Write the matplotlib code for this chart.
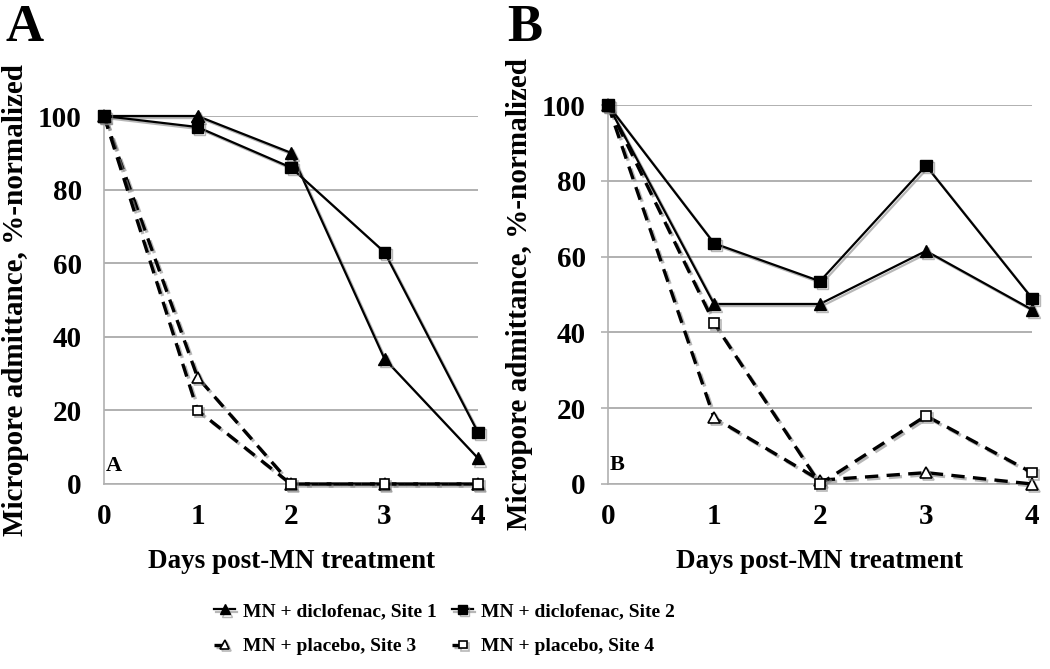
import matplotlib
matplotlib.use("Agg")
import matplotlib.pyplot as plt
import matplotlib.patheffects as pe

days = [0, 1, 2, 3, 4]

# Panel A
a_site1 = [100, 100, 90, 34, 7]
a_site2 = [100, 97, 86, 63, 14]
a_site3 = [100, 29, 0, 0, 0]
a_site4 = [100, 20, 0, 0, 0]

# Panel B
b_site1 = [100, 47.5, 47.5, 61.5, 46]
b_site2 = [100, 63.5, 53.5, 84, 49]
b_site3 = [100, 17.5, 1, 3, 0]
b_site4 = [100, 42.5, 0, 18, 3]

labels = ["MN + diclofenac, Site 1", "MN + diclofenac, Site 2",
          "MN + placebo, Site 3", "MN + placebo, Site 4"]
yticks = [0, 20, 40, 60, 80, 100]
xticks = [0, 1, 2, 3, 4]

plt.rcParams['font.family'] = ['Liberation Serif', 'DejaVu Serif']
plt.rcParams['font.weight'] = 'bold'

fig = plt.figure(figsize=(10.5, 6.69), dpi=100)
W, H = 1050, 669

def make_ax(l, r, t, b):
    return fig.add_axes([l / W, 1 - b / H, (r - l) / W, (b - t) / H])

axA = make_ax(104, 478, 116, 484)
axB = make_ax(608, 1032, 105, 484)

shadow = [pe.SimpleLineShadow(offset=(1.5, -1.5), shadow_color='#888888', alpha=0.6),
          pe.Normal()]

def draw(ax, s1, s2, s3, s4, letter, ytick_len):
    ax.set_xlim(0, 4)
    ax.set_ylim(0, 100)
    ax.set_yticks(yticks)
    ax.set_xticks(xticks)
    ax.grid(axis='y', color='#b0b0b0', linewidth=1.4)
    ax.set_axisbelow(True)
    for s in ['top', 'right']:
        ax.spines[s].set_visible(False)
    for s in ['left', 'bottom']:
        ax.spines[s].set_color('#b0b0b0')
        ax.spines[s].set_linewidth(1.2)
    ax.tick_params(axis='x', length=0, labelsize=21, pad=14)
    ax.tick_params(axis='y', length=ytick_len, width=1.2, color='#b0b0b0',
                   labelsize=21, pad=16 - ytick_len)
    for lab in ax.get_xticklabels() + ax.get_yticklabels():
        lab.set_fontweight('bold')
    h = []
    h += ax.plot(days, s1, color='black', lw=1.6, marker='^', ms=9, mfc='black',
                 mec='black', clip_on=False, path_effects=shadow, label=labels[0], zorder=5)
    h += ax.plot(days, s2, color='black', lw=1.6, marker='s', ms=8, mfc='black',
                 mec='black', clip_on=False, path_effects=shadow, label=labels[1], zorder=5)
    h += ax.plot(days, s3, color='black', lw=2.4, ls=(0, (4, 2.5)), marker='^', ms=8,
                 mfc='white', mec='black', mew=1.2, clip_on=False, path_effects=shadow,
                 label=labels[2], zorder=4)
    h += ax.plot(days, s4, color='black', lw=2.4, ls=(0, (4, 2.5)), marker='s', ms=7,
                 mfc='white', mec='black', mew=1.2, clip_on=False, path_effects=shadow,
                 label=labels[3], zorder=4)
    ax.text(0.02, 5, letter, fontsize=16, fontweight='bold', ha='left', va='center')
    ax.set_xlabel('Days post-MN treatment', fontsize=19.5, fontweight='bold', labelpad=13)
    ax.set_ylabel('Micropore admittance, %-normalized', fontsize=21, fontweight='bold',
                  labelpad=10)
    return h

hA = draw(axA, a_site1, a_site2, a_site3, a_site4, 'A', 0)
draw(axB, b_site1, b_site2, b_site3, b_site4, 'B', 5)

axA.yaxis.set_label_coords(-75 / 374, 0.5)
axB.yaxis.set_label_coords(-75 / 424, 0.5)

fig.text(5 / W, 1 - 28 / H, 'A', fontsize=38, fontweight='bold', ha='left', va='center')
fig.text(507 / W, 1 - 28 / H, 'B', fontsize=38, fontweight='bold', ha='left', va='center')

leg_kw = dict(loc='center left', frameon=False, fontsize=14, handlelength=1.1,
              handletextpad=0.4, labelspacing=0.9, borderaxespad=0, borderpad=0,
              markerscale=0.8)
leg1 = fig.legend(handles=[hA[0], hA[2]], labels=[labels[0], labels[2]],
                  bbox_to_anchor=(214 / W, 1 - 629 / H), **leg_kw)
leg2 = fig.legend(handles=[hA[1], hA[3]], labels=[labels[1], labels[3]],
                  bbox_to_anchor=(452 / W, 1 - 629 / H), **leg_kw)
for leg in (leg1, leg2):
    for t in leg.get_texts():
        t.set_fontweight('bold')

fig.savefig('out.png', dpi=100)
